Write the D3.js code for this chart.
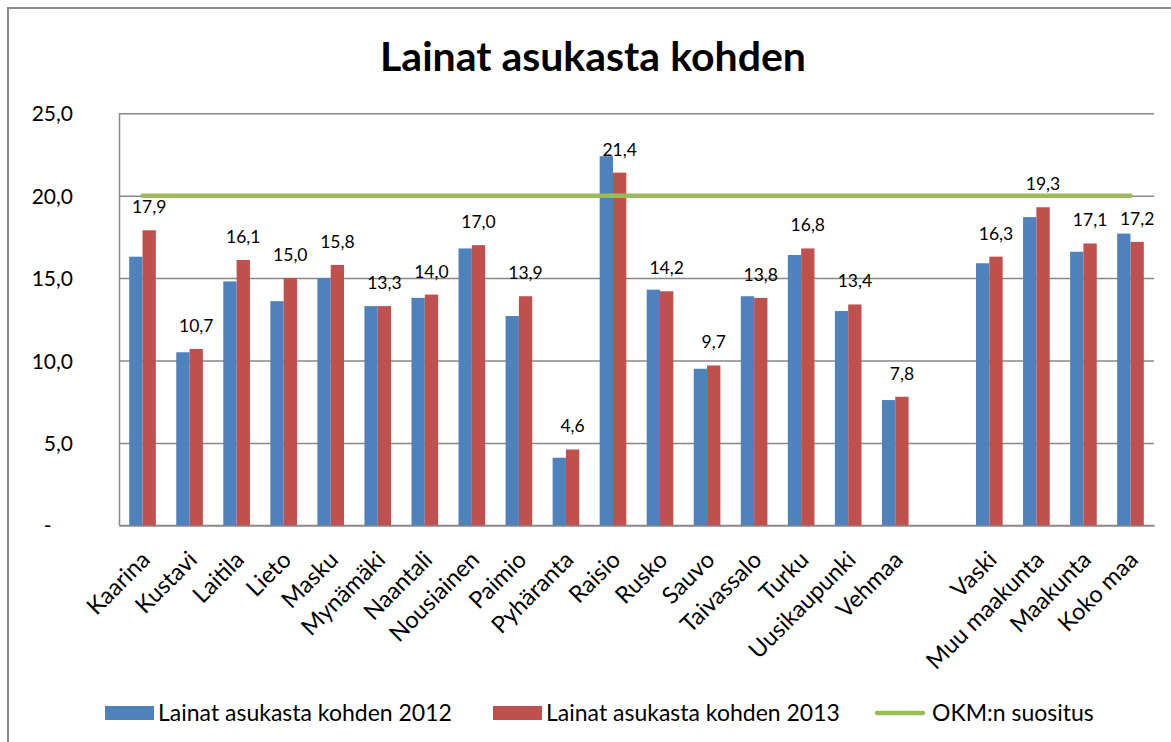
<!DOCTYPE html>
<html>
<head>
<meta charset="utf-8">
<style>
    body { margin: 0; background: #fff; }
    svg { display: block; }
    svg text { font-family: Lato, 'Open Sans', sans-serif; fill: #000; }
    .grid line { stroke: #888; stroke-width: 1.5; }
    .grid .domain { stroke: #888; stroke-width: 1.5; }
    .ytick text { font-size: 21px; white-space: pre; }
    .xaxis text { font-size: 23.5px; }
</style>
</head>
<body>
<svg width="1171" height="742"></svg>

<script src="https://d3js.org/d3.v7.min.js"></script>
<script>
    // categories (empty one is the gap before Vaski)
    let categories = ["Kaarina", "Kustavi", "Laitila", "Lieto", "Masku", "Mynämäki", "Naantali",
        "Nousiainen", "Paimio", "Pyhäranta", "Raisio", "Rusko", "Sauvo", "Taivassalo", "Turku",
        "Uusikaupunki", "Vehmaa", "", "Vaski", "Muu maakunta", "Maakunta", "Koko maa"]

    let lainat2012 = [16.3, 10.5, 14.8, 13.6, 15.0, 13.3, 13.8, 16.8, 12.7, 4.1, 22.4, 14.3, 9.5,
        13.9, 16.4, 13.0, 7.6, null, 15.9, 18.7, 16.6, 17.7]

    let lainat2013 = [17.9, 10.7, 16.1, 15.0, 15.8, 13.3, 14.0, 17.0, 13.9, 4.6, 21.4, 14.2, 9.7,
        13.8, 16.8, 13.4, 7.8, null, 16.3, 19.3, 17.1, 17.2]

    let okmSuositus = [20, 20, 20, 20, 20, 20, 20, 20, 20, 20, 20, 20, 20, 20, 20, 20, 20, 20, 20, 20, 20, 20]

    let yTicks = [0, 5, 10, 15, 20, 25]

    let seriesNames = ["Lainat asukasta kohden 2012", "Lainat asukasta kohden 2013", "OKM:n suositus"]
    let colors = ["#4F81BD", "#C0504D", "#9BBB59"]

    let svg = d3.select("svg")

    // outer chart frame
    svg.append("path")
        .attr("d", "M8,760 V8 H1180")
        .style("fill", "none")
        .style("stroke", "#8c8c8c")
        .style("stroke-width", 2)

    let plotLeft = 119, plotRight = 1154, plotTop = 113.3, plotBottom = 525.3

    let fi = d3.formatLocale({ decimal: ",", thousands: " ", grouping: [3], currency: ["", "€"] })
    let fmt = fi.format(".1f")

    // keys so the empty category is unique
    let keys = categories.map((c, i) => i)

    let x = d3.scaleBand()
        .domain(keys)
        .range([plotLeft, plotRight])
        .paddingInner(0.434)
        .paddingOuter(0.217)

    let y = d3.scaleLinear()
        .domain([0, 25])
        .range([plotBottom, plotTop])

    // gridlines + y labels
    let yAxis = svg.append("g")
        .attr("class", "grid ytick")
        .attr("transform", `translate(${plotLeft},0)`)
        .call(d3.axisLeft(y)
            .tickValues(yTicks)
            .tickSizeInner(-(plotRight - plotLeft))
            .tickSizeOuter(0)
            .tickPadding(46)
            .tickFormat(d => d === 0 ? "-    " : fmt(d)))
    yAxis.attr("font-family", null).attr("font-size", null)
    yAxis.selectAll("text").attr("dy", "0.36em")
    yAxis.selectAll(".tick").filter(d => d === 0).select("line").remove()

    // bottom axis
    let xAxis = svg.append("g")
        .attr("class", "grid xaxis")
        .attr("transform", `translate(0,${plotBottom})`)
        .call(d3.axisBottom(x)
            .tickSize(0)
            .tickFormat(i => categories[i]))
    xAxis.attr("font-family", null).attr("font-size", null)
    xAxis.select(".domain").style("stroke-width", 2)
    xAxis.selectAll("text")
        .attr("text-anchor", "end")
        .attr("dy", 0)
        .attr("y", 0)
        .attr("transform", "translate(9,36) rotate(-45)")

    let half = x.bandwidth() / 2

    let rows = keys.filter(i => lainat2012[i] !== null)

    svg.selectAll(".b2012")
        .data(rows)
        .join("rect")
        .attr("class", "b2012")
        .attr("x", i => x(i))
        .attr("width", half)
        .attr("y", i => y(lainat2012[i]))
        .attr("height", i => plotBottom - y(lainat2012[i]))
        .style("fill", colors[0])

    svg.selectAll(".b2013")
        .data(rows)
        .join("rect")
        .attr("class", "b2013")
        .attr("x", i => x(i) + half)
        .attr("width", half)
        .attr("y", i => y(lainat2013[i]))
        .attr("height", i => plotBottom - y(lainat2013[i]))
        .style("fill", colors[1])

    // recommendation line
    let line = d3.line()
        .x(i => x(i) + x.bandwidth() / 2)
        .y(i => y(okmSuositus[i]))

    svg.append("path")
        .datum(keys)
        .attr("d", line)
        .style("fill", "none")
        .style("stroke", colors[2])
        .style("stroke-width", 4.5)
        .style("stroke-linecap", "round")

    // value labels for 2013
    svg.selectAll(".lbl")
        .data(rows)
        .join("text")
        .attr("class", "lbl")
        .attr("x", i => x(i) + half * 1.5)
        .attr("y", i => y(lainat2013[i]) - 17)
        .attr("text-anchor", "middle")
        .style("font-size", "17.5px")
        .text(i => fmt(lainat2013[i]))

    // title
    svg.append("text")
        .attr("x", 593)
        .attr("y", 71)
        .attr("text-anchor", "middle")
        .style("font-size", "41px")
        .style("font-weight", "bold")
        .text("Lainat asukasta kohden")

    // legend
    let legendX = [105, 493, 875]
    let lg = svg.selectAll(".legend")
        .data(seriesNames)
        .join("g")
        .attr("class", "legend")
        .attr("transform", (d, i) => `translate(${legendX[i]},713)`)

    lg.filter((d, i) => i < 2)
        .append("rect")
        .attr("x", 0)
        .attr("y", -7)
        .attr("width", 49)
        .attr("height", 14)
        .style("fill", (d, i) => colors[i])

    lg.filter((d, i) => i === 2)
        .append("line")
        .attr("x1", 2)
        .attr("x2", 48)
        .style("stroke", colors[2])
        .style("stroke-width", 4.5)
        .style("stroke-linecap", "round")

    lg.append("text")
        .attr("x", (d, i) => i === 2 ? 57 : 53)
        .attr("dy", "0.36em")
        .style("font-size", "23px")
        .text(d => d)
</script>
</body>
</html>
